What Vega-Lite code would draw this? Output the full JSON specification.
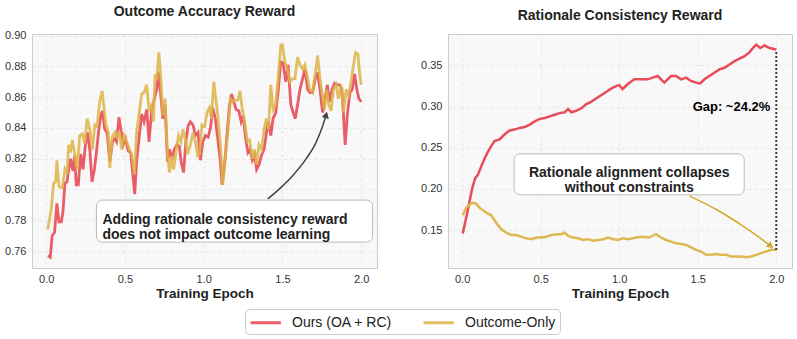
{
  "$schema": "https://vega.github.io/schema/vega-lite/v6.json",
  "padding": {"left": 4, "right": 5, "top": 4, "bottom": 4},
  "background": "white",
  "config": {
    "font": "Liberation Sans",
    "view": {"fill": "#F8F8F8", "stroke": "#CCCCCC", "strokeWidth": 1},
    "axis": {"grid": true, "gridColor": "#E0E0E0", "gridDash": [3, 3], "gridWidth": 0.8, "domain": false, "ticks": false, "labelFontSize": 11, "labelColor": "#333333", "labelPadding": 6, "labelOverlap": false, "titleFontSize": 13.5, "titleFontWeight": "bold", "titleColor": "#222222", "titlePadding": 4},
    "axisX": {"labelPadding": 5, "titlePadding": 2},
    "title": {"fontSize": 14, "fontWeight": "bold", "color": "#222222", "offset": 11},
    "legend": {"orient": "none", "legendX": 213, "legendY": 275, "direction": "horizontal", "fillColor": "white", "strokeColor": "#CCCCCC", "cornerRadius": 4, "padding": 4, "symbolType": "M-1,0H2.8", "symbolStrokeWidth": 3, "symbolSize": 256, "labelFontSize": 14, "labelColor": "#222222", "labelOffset": 24, "columnPadding": 25}
  },
  "datasets": {
    "acc": [
      {"epoch":0.011,"value":0.757,"series":"Ours (OA + RC)"},{"epoch":0.026,"value":0.756,"series":"Ours (OA + RC)"},{"epoch":0.038,"value":0.770,"series":"Ours (OA + RC)"},{"epoch":0.053,"value":0.772,"series":"Ours (OA + RC)"},{"epoch":0.068,"value":0.791,"series":"Ours (OA + RC)"},{"epoch":0.081,"value":0.779,"series":"Ours (OA + RC)"},{"epoch":0.096,"value":0.779,"series":"Ours (OA + RC)"},{"epoch":0.106,"value":0.785,"series":"Ours (OA + RC)"},{"epoch":0.119,"value":0.804,"series":"Ours (OA + RC)"},{"epoch":0.132,"value":0.805,"series":"Ours (OA + RC)"},{"epoch":0.143,"value":0.813,"series":"Ours (OA + RC)"},{"epoch":0.155,"value":0.820,"series":"Ours (OA + RC)"},{"epoch":0.170,"value":0.812,"series":"Ours (OA + RC)"},{"epoch":0.181,"value":0.822,"series":"Ours (OA + RC)"},{"epoch":0.191,"value":0.803,"series":"Ours (OA + RC)"},{"epoch":0.204,"value":0.803,"series":"Ours (OA + RC)"},{"epoch":0.219,"value":0.823,"series":"Ours (OA + RC)"},{"epoch":0.234,"value":0.813,"series":"Ours (OA + RC)"},{"epoch":0.249,"value":0.829,"series":"Ours (OA + RC)"},{"epoch":0.262,"value":0.837,"series":"Ours (OA + RC)"},{"epoch":0.277,"value":0.826,"series":"Ours (OA + RC)"},{"epoch":0.291,"value":0.805,"series":"Ours (OA + RC)"},{"epoch":0.306,"value":0.813,"series":"Ours (OA + RC)"},{"epoch":0.319,"value":0.824,"series":"Ours (OA + RC)"},{"epoch":0.334,"value":0.839,"series":"Ours (OA + RC)"},{"epoch":0.347,"value":0.848,"series":"Ours (OA + RC)"},{"epoch":0.357,"value":0.851,"series":"Ours (OA + RC)"},{"epoch":0.372,"value":0.839,"series":"Ours (OA + RC)"},{"epoch":0.387,"value":0.837,"series":"Ours (OA + RC)"},{"epoch":0.404,"value":0.818,"series":"Ours (OA + RC)"},{"epoch":0.421,"value":0.831,"series":"Ours (OA + RC)"},{"epoch":0.436,"value":0.833,"series":"Ours (OA + RC)"},{"epoch":0.447,"value":0.831,"series":"Ours (OA + RC)"},{"epoch":0.462,"value":0.847,"series":"Ours (OA + RC)"},{"epoch":0.474,"value":0.839,"series":"Ours (OA + RC)"},{"epoch":0.489,"value":0.829,"series":"Ours (OA + RC)"},{"epoch":0.504,"value":0.833,"series":"Ours (OA + RC)"},{"epoch":0.521,"value":0.825,"series":"Ours (OA + RC)"},{"epoch":0.536,"value":0.824,"series":"Ours (OA + RC)"},{"epoch":0.549,"value":0.811,"series":"Ours (OA + RC)"},{"epoch":0.562,"value":0.797,"series":"Ours (OA + RC)"},{"epoch":0.574,"value":0.818,"series":"Ours (OA + RC)"},{"epoch":0.591,"value":0.835,"series":"Ours (OA + RC)"},{"epoch":0.606,"value":0.849,"series":"Ours (OA + RC)"},{"epoch":0.621,"value":0.844,"series":"Ours (OA + RC)"},{"epoch":0.638,"value":0.852,"series":"Ours (OA + RC)"},{"epoch":0.653,"value":0.831,"series":"Ours (OA + RC)"},{"epoch":0.670,"value":0.852,"series":"Ours (OA + RC)"},{"epoch":0.687,"value":0.859,"series":"Ours (OA + RC)"},{"epoch":0.702,"value":0.865,"series":"Ours (OA + RC)"},{"epoch":0.713,"value":0.876,"series":"Ours (OA + RC)"},{"epoch":0.728,"value":0.861,"series":"Ours (OA + RC)"},{"epoch":0.740,"value":0.846,"series":"Ours (OA + RC)"},{"epoch":0.755,"value":0.855,"series":"Ours (OA + RC)"},{"epoch":0.770,"value":0.818,"series":"Ours (OA + RC)"},{"epoch":0.783,"value":0.826,"series":"Ours (OA + RC)"},{"epoch":0.798,"value":0.820,"series":"Ours (OA + RC)"},{"epoch":0.813,"value":0.826,"series":"Ours (OA + RC)"},{"epoch":0.830,"value":0.829,"series":"Ours (OA + RC)"},{"epoch":0.845,"value":0.828,"series":"Ours (OA + RC)"},{"epoch":0.857,"value":0.818,"series":"Ours (OA + RC)"},{"epoch":0.872,"value":0.811,"series":"Ours (OA + RC)"},{"epoch":0.887,"value":0.831,"series":"Ours (OA + RC)"},{"epoch":0.900,"value":0.841,"series":"Ours (OA + RC)"},{"epoch":0.915,"value":0.844,"series":"Ours (OA + RC)"},{"epoch":0.932,"value":0.842,"series":"Ours (OA + RC)"},{"epoch":0.947,"value":0.835,"series":"Ours (OA + RC)"},{"epoch":0.964,"value":0.837,"series":"Ours (OA + RC)"},{"epoch":0.979,"value":0.819,"series":"Ours (OA + RC)"},{"epoch":0.994,"value":0.831,"series":"Ours (OA + RC)"},{"epoch":1.011,"value":0.835,"series":"Ours (OA + RC)"},{"epoch":1.028,"value":0.834,"series":"Ours (OA + RC)"},{"epoch":1.043,"value":0.840,"series":"Ours (OA + RC)"},{"epoch":1.057,"value":0.853,"series":"Ours (OA + RC)"},{"epoch":1.074,"value":0.846,"series":"Ours (OA + RC)"},{"epoch":1.089,"value":0.833,"series":"Ours (OA + RC)"},{"epoch":1.104,"value":0.820,"series":"Ours (OA + RC)"},{"epoch":1.117,"value":0.803,"series":"Ours (OA + RC)"},{"epoch":1.134,"value":0.818,"series":"Ours (OA + RC)"},{"epoch":1.149,"value":0.837,"series":"Ours (OA + RC)"},{"epoch":1.164,"value":0.855,"series":"Ours (OA + RC)"},{"epoch":1.177,"value":0.862,"series":"Ours (OA + RC)"},{"epoch":1.191,"value":0.857,"series":"Ours (OA + RC)"},{"epoch":1.206,"value":0.852,"series":"Ours (OA + RC)"},{"epoch":1.223,"value":0.851,"series":"Ours (OA + RC)"},{"epoch":1.238,"value":0.844,"series":"Ours (OA + RC)"},{"epoch":1.251,"value":0.848,"series":"Ours (OA + RC)"},{"epoch":1.266,"value":0.833,"series":"Ours (OA + RC)"},{"epoch":1.281,"value":0.824,"series":"Ours (OA + RC)"},{"epoch":1.294,"value":0.826,"series":"Ours (OA + RC)"},{"epoch":1.309,"value":0.819,"series":"Ours (OA + RC)"},{"epoch":1.323,"value":0.822,"series":"Ours (OA + RC)"},{"epoch":1.336,"value":0.813,"series":"Ours (OA + RC)"},{"epoch":1.351,"value":0.816,"series":"Ours (OA + RC)"},{"epoch":1.366,"value":0.822,"series":"Ours (OA + RC)"},{"epoch":1.383,"value":0.826,"series":"Ours (OA + RC)"},{"epoch":1.398,"value":0.837,"series":"Ours (OA + RC)"},{"epoch":1.411,"value":0.844,"series":"Ours (OA + RC)"},{"epoch":1.426,"value":0.835,"series":"Ours (OA + RC)"},{"epoch":1.440,"value":0.846,"series":"Ours (OA + RC)"},{"epoch":1.457,"value":0.850,"series":"Ours (OA + RC)"},{"epoch":1.474,"value":0.865,"series":"Ours (OA + RC)"},{"epoch":1.489,"value":0.883,"series":"Ours (OA + RC)"},{"epoch":1.504,"value":0.882,"series":"Ours (OA + RC)"},{"epoch":1.521,"value":0.870,"series":"Ours (OA + RC)"},{"epoch":1.536,"value":0.881,"series":"Ours (OA + RC)"},{"epoch":1.553,"value":0.855,"series":"Ours (OA + RC)"},{"epoch":1.568,"value":0.850,"series":"Ours (OA + RC)"},{"epoch":1.581,"value":0.846,"series":"Ours (OA + RC)"},{"epoch":1.596,"value":0.855,"series":"Ours (OA + RC)"},{"epoch":1.611,"value":0.865,"series":"Ours (OA + RC)"},{"epoch":1.628,"value":0.872,"series":"Ours (OA + RC)"},{"epoch":1.643,"value":0.878,"series":"Ours (OA + RC)"},{"epoch":1.660,"value":0.865,"series":"Ours (OA + RC)"},{"epoch":1.674,"value":0.863,"series":"Ours (OA + RC)"},{"epoch":1.691,"value":0.863,"series":"Ours (OA + RC)"},{"epoch":1.709,"value":0.872,"series":"Ours (OA + RC)"},{"epoch":1.723,"value":0.876,"series":"Ours (OA + RC)"},{"epoch":1.738,"value":0.865,"series":"Ours (OA + RC)"},{"epoch":1.755,"value":0.850,"series":"Ours (OA + RC)"},{"epoch":1.770,"value":0.859,"series":"Ours (OA + RC)"},{"epoch":1.785,"value":0.868,"series":"Ours (OA + RC)"},{"epoch":1.798,"value":0.857,"series":"Ours (OA + RC)"},{"epoch":1.815,"value":0.865,"series":"Ours (OA + RC)"},{"epoch":1.830,"value":0.869,"series":"Ours (OA + RC)"},{"epoch":1.845,"value":0.868,"series":"Ours (OA + RC)"},{"epoch":1.862,"value":0.868,"series":"Ours (OA + RC)"},{"epoch":1.877,"value":0.865,"series":"Ours (OA + RC)"},{"epoch":1.887,"value":0.849,"series":"Ours (OA + RC)"},{"epoch":1.898,"value":0.829,"series":"Ours (OA + RC)"},{"epoch":1.913,"value":0.850,"series":"Ours (OA + RC)"},{"epoch":1.928,"value":0.863,"series":"Ours (OA + RC)"},{"epoch":1.943,"value":0.865,"series":"Ours (OA + RC)"},{"epoch":1.957,"value":0.875,"series":"Ours (OA + RC)"},{"epoch":1.972,"value":0.865,"series":"Ours (OA + RC)"},{"epoch":1.985,"value":0.859,"series":"Ours (OA + RC)"},{"epoch":2.000,"value":0.857,"series":"Ours (OA + RC)"},
      {"epoch":0.010,"value":0.774,"series":"Outcome-Only"},{"epoch":0.032,"value":0.787,"series":"Outcome-Only"},{"epoch":0.047,"value":0.804,"series":"Outcome-Only"},{"epoch":0.060,"value":0.805,"series":"Outcome-Only"},{"epoch":0.068,"value":0.819,"series":"Outcome-Only"},{"epoch":0.081,"value":0.802,"series":"Outcome-Only"},{"epoch":0.102,"value":0.801,"series":"Outcome-Only"},{"epoch":0.119,"value":0.813,"series":"Outcome-Only"},{"epoch":0.132,"value":0.810,"series":"Outcome-Only"},{"epoch":0.143,"value":0.829,"series":"Outcome-Only"},{"epoch":0.155,"value":0.824,"series":"Outcome-Only"},{"epoch":0.166,"value":0.832,"series":"Outcome-Only"},{"epoch":0.180,"value":0.824,"series":"Outcome-Only"},{"epoch":0.196,"value":0.813,"series":"Outcome-Only"},{"epoch":0.213,"value":0.835,"series":"Outcome-Only"},{"epoch":0.230,"value":0.836,"series":"Outcome-Only"},{"epoch":0.245,"value":0.830,"series":"Outcome-Only"},{"epoch":0.260,"value":0.846,"series":"Outcome-Only"},{"epoch":0.277,"value":0.839,"series":"Outcome-Only"},{"epoch":0.294,"value":0.826,"series":"Outcome-Only"},{"epoch":0.309,"value":0.842,"series":"Outcome-Only"},{"epoch":0.323,"value":0.841,"series":"Outcome-Only"},{"epoch":0.340,"value":0.857,"series":"Outcome-Only"},{"epoch":0.355,"value":0.864,"series":"Outcome-Only"},{"epoch":0.368,"value":0.852,"series":"Outcome-Only"},{"epoch":0.379,"value":0.842,"series":"Outcome-Only"},{"epoch":0.394,"value":0.837,"series":"Outcome-Only"},{"epoch":0.404,"value":0.814,"series":"Outcome-Only"},{"epoch":0.419,"value":0.834,"series":"Outcome-Only"},{"epoch":0.436,"value":0.837,"series":"Outcome-Only"},{"epoch":0.451,"value":0.834,"series":"Outcome-Only"},{"epoch":0.464,"value":0.838,"series":"Outcome-Only"},{"epoch":0.479,"value":0.826,"series":"Outcome-Only"},{"epoch":0.494,"value":0.835,"series":"Outcome-Only"},{"epoch":0.511,"value":0.831,"series":"Outcome-Only"},{"epoch":0.526,"value":0.827,"series":"Outcome-Only"},{"epoch":0.543,"value":0.822,"series":"Outcome-Only"},{"epoch":0.560,"value":0.810,"series":"Outcome-Only"},{"epoch":0.574,"value":0.837,"series":"Outcome-Only"},{"epoch":0.591,"value":0.850,"series":"Outcome-Only"},{"epoch":0.606,"value":0.862,"series":"Outcome-Only"},{"epoch":0.621,"value":0.863,"series":"Outcome-Only"},{"epoch":0.638,"value":0.868,"series":"Outcome-Only"},{"epoch":0.653,"value":0.852,"series":"Outcome-Only"},{"epoch":0.670,"value":0.855,"series":"Outcome-Only"},{"epoch":0.681,"value":0.844,"series":"Outcome-Only"},{"epoch":0.691,"value":0.875,"series":"Outcome-Only"},{"epoch":0.702,"value":0.871,"series":"Outcome-Only"},{"epoch":0.715,"value":0.889,"series":"Outcome-Only"},{"epoch":0.728,"value":0.872,"series":"Outcome-Only"},{"epoch":0.740,"value":0.848,"series":"Outcome-Only"},{"epoch":0.755,"value":0.859,"series":"Outcome-Only"},{"epoch":0.770,"value":0.822,"series":"Outcome-Only"},{"epoch":0.783,"value":0.811,"series":"Outcome-Only"},{"epoch":0.798,"value":0.822,"series":"Outcome-Only"},{"epoch":0.809,"value":0.813,"series":"Outcome-Only"},{"epoch":0.826,"value":0.826,"series":"Outcome-Only"},{"epoch":0.840,"value":0.835,"series":"Outcome-Only"},{"epoch":0.855,"value":0.831,"series":"Outcome-Only"},{"epoch":0.868,"value":0.839,"series":"Outcome-Only"},{"epoch":0.883,"value":0.833,"series":"Outcome-Only"},{"epoch":0.898,"value":0.823,"series":"Outcome-Only"},{"epoch":0.915,"value":0.829,"series":"Outcome-Only"},{"epoch":0.932,"value":0.837,"series":"Outcome-Only"},{"epoch":0.947,"value":0.831,"series":"Outcome-Only"},{"epoch":0.962,"value":0.822,"series":"Outcome-Only"},{"epoch":0.974,"value":0.823,"series":"Outcome-Only"},{"epoch":0.989,"value":0.842,"series":"Outcome-Only"},{"epoch":1.006,"value":0.841,"series":"Outcome-Only"},{"epoch":1.021,"value":0.850,"series":"Outcome-Only"},{"epoch":1.036,"value":0.853,"series":"Outcome-Only"},{"epoch":1.049,"value":0.846,"series":"Outcome-Only"},{"epoch":1.064,"value":0.870,"series":"Outcome-Only"},{"epoch":1.079,"value":0.857,"series":"Outcome-Only"},{"epoch":1.091,"value":0.846,"series":"Outcome-Only"},{"epoch":1.106,"value":0.829,"series":"Outcome-Only"},{"epoch":1.121,"value":0.803,"series":"Outcome-Only"},{"epoch":1.138,"value":0.822,"series":"Outcome-Only"},{"epoch":1.155,"value":0.839,"series":"Outcome-Only"},{"epoch":1.170,"value":0.859,"series":"Outcome-Only"},{"epoch":1.185,"value":0.857,"series":"Outcome-Only"},{"epoch":1.202,"value":0.858,"series":"Outcome-Only"},{"epoch":1.217,"value":0.858,"series":"Outcome-Only"},{"epoch":1.230,"value":0.864,"series":"Outcome-Only"},{"epoch":1.245,"value":0.852,"series":"Outcome-Only"},{"epoch":1.260,"value":0.844,"series":"Outcome-Only"},{"epoch":1.277,"value":0.831,"series":"Outcome-Only"},{"epoch":1.291,"value":0.832,"series":"Outcome-Only"},{"epoch":1.309,"value":0.820,"series":"Outcome-Only"},{"epoch":1.323,"value":0.826,"series":"Outcome-Only"},{"epoch":1.336,"value":0.816,"series":"Outcome-Only"},{"epoch":1.351,"value":0.829,"series":"Outcome-Only"},{"epoch":1.368,"value":0.826,"series":"Outcome-Only"},{"epoch":1.383,"value":0.839,"series":"Outcome-Only"},{"epoch":1.398,"value":0.846,"series":"Outcome-Only"},{"epoch":1.411,"value":0.839,"series":"Outcome-Only"},{"epoch":1.426,"value":0.868,"series":"Outcome-Only"},{"epoch":1.440,"value":0.852,"series":"Outcome-Only"},{"epoch":1.457,"value":0.855,"series":"Outcome-Only"},{"epoch":1.474,"value":0.874,"series":"Outcome-Only"},{"epoch":1.489,"value":0.894,"series":"Outcome-Only"},{"epoch":1.500,"value":0.894,"series":"Outcome-Only"},{"epoch":1.515,"value":0.883,"series":"Outcome-Only"},{"epoch":1.532,"value":0.878,"series":"Outcome-Only"},{"epoch":1.547,"value":0.870,"series":"Outcome-Only"},{"epoch":1.564,"value":0.872,"series":"Outcome-Only"},{"epoch":1.579,"value":0.872,"series":"Outcome-Only"},{"epoch":1.596,"value":0.886,"series":"Outcome-Only"},{"epoch":1.611,"value":0.881,"series":"Outcome-Only"},{"epoch":1.628,"value":0.878,"series":"Outcome-Only"},{"epoch":1.643,"value":0.881,"series":"Outcome-Only"},{"epoch":1.660,"value":0.872,"series":"Outcome-Only"},{"epoch":1.674,"value":0.865,"series":"Outcome-Only"},{"epoch":1.691,"value":0.863,"series":"Outcome-Only"},{"epoch":1.709,"value":0.876,"series":"Outcome-Only"},{"epoch":1.723,"value":0.887,"series":"Outcome-Only"},{"epoch":1.738,"value":0.872,"series":"Outcome-Only"},{"epoch":1.751,"value":0.863,"series":"Outcome-Only"},{"epoch":1.766,"value":0.852,"series":"Outcome-Only"},{"epoch":1.781,"value":0.865,"series":"Outcome-Only"},{"epoch":1.794,"value":0.855,"series":"Outcome-Only"},{"epoch":1.809,"value":0.851,"series":"Outcome-Only"},{"epoch":1.823,"value":0.865,"series":"Outcome-Only"},{"epoch":1.840,"value":0.868,"series":"Outcome-Only"},{"epoch":1.855,"value":0.859,"series":"Outcome-Only"},{"epoch":1.872,"value":0.868,"series":"Outcome-Only"},{"epoch":1.887,"value":0.850,"series":"Outcome-Only"},{"epoch":1.904,"value":0.865,"series":"Outcome-Only"},{"epoch":1.919,"value":0.861,"series":"Outcome-Only"},{"epoch":1.936,"value":0.870,"series":"Outcome-Only"},{"epoch":1.951,"value":0.881,"series":"Outcome-Only"},{"epoch":1.964,"value":0.889,"series":"Outcome-Only"},{"epoch":1.979,"value":0.888,"series":"Outcome-Only"},{"epoch":1.989,"value":0.876,"series":"Outcome-Only"},{"epoch":2.000,"value":0.868,"series":"Outcome-Only"}
    ],
    "rc": [
      {"epoch":0.004,"value":0.146,"series":"Ours (OA + RC)"},{"epoch":0.036,"value":0.174,"series":"Ours (OA + RC)"},{"epoch":0.062,"value":0.199,"series":"Ours (OA + RC)"},{"epoch":0.083,"value":0.213,"series":"Ours (OA + RC)"},{"epoch":0.100,"value":0.217,"series":"Ours (OA + RC)"},{"epoch":0.121,"value":0.227,"series":"Ours (OA + RC)"},{"epoch":0.143,"value":0.237,"series":"Ours (OA + RC)"},{"epoch":0.164,"value":0.245,"series":"Ours (OA + RC)"},{"epoch":0.185,"value":0.252,"series":"Ours (OA + RC)"},{"epoch":0.206,"value":0.258,"series":"Ours (OA + RC)"},{"epoch":0.238,"value":0.260,"series":"Ours (OA + RC)"},{"epoch":0.270,"value":0.266,"series":"Ours (OA + RC)"},{"epoch":0.302,"value":0.271,"series":"Ours (OA + RC)"},{"epoch":0.334,"value":0.272,"series":"Ours (OA + RC)"},{"epoch":0.366,"value":0.274,"series":"Ours (OA + RC)"},{"epoch":0.398,"value":0.275,"series":"Ours (OA + RC)"},{"epoch":0.430,"value":0.278,"series":"Ours (OA + RC)"},{"epoch":0.462,"value":0.282,"series":"Ours (OA + RC)"},{"epoch":0.494,"value":0.285,"series":"Ours (OA + RC)"},{"epoch":0.526,"value":0.286,"series":"Ours (OA + RC)"},{"epoch":0.557,"value":0.288,"series":"Ours (OA + RC)"},{"epoch":0.589,"value":0.290,"series":"Ours (OA + RC)"},{"epoch":0.621,"value":0.292,"series":"Ours (OA + RC)"},{"epoch":0.653,"value":0.293,"series":"Ours (OA + RC)"},{"epoch":0.674,"value":0.297,"series":"Ours (OA + RC)"},{"epoch":0.696,"value":0.293,"series":"Ours (OA + RC)"},{"epoch":0.728,"value":0.295,"series":"Ours (OA + RC)"},{"epoch":0.760,"value":0.298,"series":"Ours (OA + RC)"},{"epoch":0.791,"value":0.303,"series":"Ours (OA + RC)"},{"epoch":0.823,"value":0.306,"series":"Ours (OA + RC)"},{"epoch":0.855,"value":0.310,"series":"Ours (OA + RC)"},{"epoch":0.887,"value":0.314,"series":"Ours (OA + RC)"},{"epoch":0.919,"value":0.318,"series":"Ours (OA + RC)"},{"epoch":0.951,"value":0.322,"series":"Ours (OA + RC)"},{"epoch":0.983,"value":0.325,"series":"Ours (OA + RC)"},{"epoch":1.000,"value":0.326,"series":"Ours (OA + RC)"},{"epoch":1.021,"value":0.321,"series":"Ours (OA + RC)"},{"epoch":1.053,"value":0.327,"series":"Ours (OA + RC)"},{"epoch":1.096,"value":0.333,"series":"Ours (OA + RC)"},{"epoch":1.138,"value":0.333,"series":"Ours (OA + RC)"},{"epoch":1.181,"value":0.333,"series":"Ours (OA + RC)"},{"epoch":1.213,"value":0.335,"series":"Ours (OA + RC)"},{"epoch":1.245,"value":0.337,"series":"Ours (OA + RC)"},{"epoch":1.287,"value":0.329,"series":"Ours (OA + RC)"},{"epoch":1.330,"value":0.337,"series":"Ours (OA + RC)"},{"epoch":1.362,"value":0.337,"series":"Ours (OA + RC)"},{"epoch":1.394,"value":0.333,"series":"Ours (OA + RC)"},{"epoch":1.426,"value":0.335,"series":"Ours (OA + RC)"},{"epoch":1.457,"value":0.331,"series":"Ours (OA + RC)"},{"epoch":1.489,"value":0.329,"series":"Ours (OA + RC)"},{"epoch":1.515,"value":0.328,"series":"Ours (OA + RC)"},{"epoch":1.543,"value":0.333,"series":"Ours (OA + RC)"},{"epoch":1.574,"value":0.337,"series":"Ours (OA + RC)"},{"epoch":1.606,"value":0.341,"series":"Ours (OA + RC)"},{"epoch":1.638,"value":0.345,"series":"Ours (OA + RC)"},{"epoch":1.670,"value":0.347,"series":"Ours (OA + RC)"},{"epoch":1.702,"value":0.351,"series":"Ours (OA + RC)"},{"epoch":1.734,"value":0.355,"series":"Ours (OA + RC)"},{"epoch":1.766,"value":0.358,"series":"Ours (OA + RC)"},{"epoch":1.798,"value":0.361,"series":"Ours (OA + RC)"},{"epoch":1.830,"value":0.366,"series":"Ours (OA + RC)"},{"epoch":1.851,"value":0.371,"series":"Ours (OA + RC)"},{"epoch":1.872,"value":0.375,"series":"Ours (OA + RC)"},{"epoch":1.898,"value":0.371,"series":"Ours (OA + RC)"},{"epoch":1.926,"value":0.374,"series":"Ours (OA + RC)"},{"epoch":1.957,"value":0.371,"series":"Ours (OA + RC)"},{"epoch":1.979,"value":0.370,"series":"Ours (OA + RC)"},{"epoch":2.000,"value":0.369,"series":"Ours (OA + RC)"},
      {"epoch":0.004,"value":0.168,"series":"Outcome-Only"},{"epoch":0.026,"value":0.177,"series":"Outcome-Only"},{"epoch":0.047,"value":0.181,"series":"Outcome-Only"},{"epoch":0.068,"value":0.183,"series":"Outcome-Only"},{"epoch":0.089,"value":0.182,"series":"Outcome-Only"},{"epoch":0.111,"value":0.177,"series":"Outcome-Only"},{"epoch":0.132,"value":0.174,"series":"Outcome-Only"},{"epoch":0.164,"value":0.170,"series":"Outcome-Only"},{"epoch":0.185,"value":0.168,"series":"Outcome-Only"},{"epoch":0.206,"value":0.162,"series":"Outcome-Only"},{"epoch":0.228,"value":0.156,"series":"Outcome-Only"},{"epoch":0.249,"value":0.151,"series":"Outcome-Only"},{"epoch":0.281,"value":0.147,"series":"Outcome-Only"},{"epoch":0.313,"value":0.144,"series":"Outcome-Only"},{"epoch":0.345,"value":0.144,"series":"Outcome-Only"},{"epoch":0.377,"value":0.142,"series":"Outcome-Only"},{"epoch":0.409,"value":0.140,"series":"Outcome-Only"},{"epoch":0.440,"value":0.139,"series":"Outcome-Only"},{"epoch":0.472,"value":0.141,"series":"Outcome-Only"},{"epoch":0.504,"value":0.141,"series":"Outcome-Only"},{"epoch":0.536,"value":0.142,"series":"Outcome-Only"},{"epoch":0.568,"value":0.144,"series":"Outcome-Only"},{"epoch":0.600,"value":0.145,"series":"Outcome-Only"},{"epoch":0.632,"value":0.145,"series":"Outcome-Only"},{"epoch":0.653,"value":0.147,"series":"Outcome-Only"},{"epoch":0.674,"value":0.143,"series":"Outcome-Only"},{"epoch":0.706,"value":0.141,"series":"Outcome-Only"},{"epoch":0.738,"value":0.140,"series":"Outcome-Only"},{"epoch":0.770,"value":0.138,"series":"Outcome-Only"},{"epoch":0.802,"value":0.139,"series":"Outcome-Only"},{"epoch":0.834,"value":0.137,"series":"Outcome-Only"},{"epoch":0.866,"value":0.138,"series":"Outcome-Only"},{"epoch":0.898,"value":0.139,"series":"Outcome-Only"},{"epoch":0.930,"value":0.141,"series":"Outcome-Only"},{"epoch":0.962,"value":0.139,"series":"Outcome-Only"},{"epoch":0.994,"value":0.138,"series":"Outcome-Only"},{"epoch":1.021,"value":0.140,"series":"Outcome-Only"},{"epoch":1.064,"value":0.139,"series":"Outcome-Only"},{"epoch":1.106,"value":0.141,"series":"Outcome-Only"},{"epoch":1.149,"value":0.142,"series":"Outcome-Only"},{"epoch":1.191,"value":0.141,"series":"Outcome-Only"},{"epoch":1.234,"value":0.145,"series":"Outcome-Only"},{"epoch":1.266,"value":0.141,"series":"Outcome-Only"},{"epoch":1.298,"value":0.138,"series":"Outcome-Only"},{"epoch":1.330,"value":0.136,"series":"Outcome-Only"},{"epoch":1.362,"value":0.134,"series":"Outcome-Only"},{"epoch":1.394,"value":0.133,"series":"Outcome-Only"},{"epoch":1.426,"value":0.132,"series":"Outcome-Only"},{"epoch":1.457,"value":0.129,"series":"Outcome-Only"},{"epoch":1.489,"value":0.126,"series":"Outcome-Only"},{"epoch":1.521,"value":0.124,"series":"Outcome-Only"},{"epoch":1.553,"value":0.120,"series":"Outcome-Only"},{"epoch":1.585,"value":0.120,"series":"Outcome-Only"},{"epoch":1.617,"value":0.121,"series":"Outcome-Only"},{"epoch":1.649,"value":0.120,"series":"Outcome-Only"},{"epoch":1.681,"value":0.120,"series":"Outcome-Only"},{"epoch":1.713,"value":0.118,"series":"Outcome-Only"},{"epoch":1.745,"value":0.118,"series":"Outcome-Only"},{"epoch":1.777,"value":0.118,"series":"Outcome-Only"},{"epoch":1.809,"value":0.117,"series":"Outcome-Only"},{"epoch":1.840,"value":0.118,"series":"Outcome-Only"},{"epoch":1.872,"value":0.120,"series":"Outcome-Only"},{"epoch":1.904,"value":0.122,"series":"Outcome-Only"},{"epoch":1.936,"value":0.124,"series":"Outcome-Only"},{"epoch":1.968,"value":0.126,"series":"Outcome-Only"},{"epoch":2.000,"value":0.126,"series":"Outcome-Only"}
    ]
  },
  "spacing": 42,
  "resolve": {"scale": {"color": "shared"}, "legend": {"color": "shared"}},
  "hconcat": [
    {
      "width": 345,
      "height": 234,
      "title": "Outcome Accuracy Reward",
      "encoding": {
        "x": {"field": "epoch", "type": "quantitative", "scale": {"domain": [-0.09, 2.1], "nice": false, "zero": false}, "axis": {"values": [0, 0.5, 1, 1.5, 2], "format": ".1f", "title": "Training Epoch"}},
        "y": {"field": "value", "type": "quantitative", "scale": {"domain": [0.749, 0.901], "nice": false, "zero": false}, "axis": {"values": [0.76, 0.78, 0.8, 0.82, 0.84, 0.86, 0.88, 0.9], "format": ".2f", "title": null}}
      },
      "layer": [
        {
          "data": {"name": "acc"},
          "mark": {"type": "line", "strokeWidth": 2.8, "opacity": 0.85},
          "encoding": {
            "color": {"field": "series", "type": "nominal", "scale": {"domain": ["Ours (OA + RC)", "Outcome-Only"], "range": ["#E8414F", "#DDB448"]}, "legend": {"title": null}}
          }
        },
        {
          "data": {"values": [
            {"epoch": 1.407, "value": 0.7939, "k": 1},
            {"epoch": 1.481, "value": 0.8004, "k": 2},
            {"epoch": 1.566, "value": 0.8091, "k": 3},
            {"epoch": 1.651, "value": 0.8200, "k": 4},
            {"epoch": 1.714, "value": 0.8308, "k": 5},
            {"epoch": 1.756, "value": 0.8416, "k": 6},
            {"epoch": 1.777, "value": 0.8485, "k": 7}
          ]},
          "mark": {"type": "line", "color": "#444444", "strokeWidth": 1.5, "interpolate": "monotone"},
          "encoding": {"order": {"field": "k"}}
        },
        {
          "data": {"values": [{"epoch": 1.777, "value": 0.8485}]},
          "mark": {"type": "point", "shape": "triangle-up", "filled": true, "color": "#444444", "size": 55, "angle": 16, "opacity": 1},
          "encoding": {}
        },
        {
          "data": {"values": [{"epoch": 0.319, "epoch2": 2.072, "value": 0.7931, "value2": 0.7658}]},
          "mark": {"type": "rect", "fill": "white", "stroke": "#BBBBBB", "strokeWidth": 1, "cornerRadius": 6},
          "encoding": {"x2": {"field": "epoch2"}, "y2": {"field": "value2"}}
        },
        {
          "data": {"values": [{"epoch": 0.357, "value": 0.7805, "label": "Adding rationale consistency reward\ndoes not impact outcome learning"}]},
          "mark": {"type": "text", "align": "left", "baseline": "middle", "fontSize": 14, "fontWeight": "bold", "color": "#222222", "lineBreak": "\n", "lineHeight": 15},
          "encoding": {"text": {"field": "label"}}
        }
      ]
    },
    {
      "width": 344,
      "height": 234,
      "title": "Rationale Consistency Reward",
      "encoding": {
        "x": {"field": "epoch", "type": "quantitative", "scale": {"domain": [-0.09, 2.1], "nice": false, "zero": false}, "axis": {"values": [0, 0.5, 1, 1.5, 2], "format": ".1f", "title": "Training Epoch"}},
        "y": {"field": "value", "type": "quantitative", "scale": {"domain": [0.104, 0.388], "nice": false, "zero": false}, "axis": {"values": [0.15, 0.2, 0.25, 0.3, 0.35], "format": ".2f", "title": null}}
      },
      "layer": [
        {
          "data": {"name": "rc"},
          "mark": {"type": "line", "strokeWidth": 2.5, "opacity": 0.95},
          "encoding": {
            "color": {"field": "series", "type": "nominal", "scale": {"domain": ["Ours (OA + RC)", "Outcome-Only"], "range": ["#E8414F", "#DDB448"]}, "legend": {"title": null}}
          }
        },
        {
          "data": {"values": [{"epoch": 2.0, "value": 0.126, "value2": 0.369}]},
          "mark": {"type": "rule", "color": "black", "strokeWidth": 2, "strokeDash": [1.5, 2.5]},
          "encoding": {"y2": {"field": "value2"}}
        },
        {
          "data": {"values": [{"epoch": 1.962, "value": 0.2995, "label": "Gap: ~24.2%"}]},
          "mark": {"type": "text", "align": "right", "baseline": "middle", "fontSize": 13, "fontWeight": "bold", "color": "black"},
          "encoding": {"text": {"field": "label"}}
        },
        {
          "data": {"values": [
            {"epoch": 1.448, "value": 0.1912, "k": 1},
            {"epoch": 1.618, "value": 0.1750, "k": 2},
            {"epoch": 1.788, "value": 0.1549, "k": 3},
            {"epoch": 1.915, "value": 0.1379, "k": 4},
            {"epoch": 1.964, "value": 0.1307, "k": 5}
          ]},
          "mark": {"type": "line", "color": "#D4A72C", "strokeWidth": 1.5, "interpolate": "monotone"},
          "encoding": {"order": {"field": "k"}}
        },
        {
          "data": {"values": [{"epoch": 1.964, "value": 0.1307}]},
          "mark": {"type": "point", "shape": "triangle-up", "filled": true, "color": "#D4A72C", "size": 55, "angle": 128, "opacity": 1},
          "encoding": {}
        },
        {
          "data": {"values": [{"epoch": 0.331, "epoch2": 1.796, "value": 0.2425, "value2": 0.1928}]},
          "mark": {"type": "rect", "fill": "white", "stroke": "#BBBBBB", "strokeWidth": 1, "cornerRadius": 6},
          "encoding": {"x2": {"field": "epoch2"}, "y2": {"field": "value2"}}
        },
        {
          "data": {"values": [{"epoch": 1.064, "value": 0.2189, "label": "Rationale alignment collapses\nwithout constraints"}]},
          "mark": {"type": "text", "align": "center", "baseline": "middle", "fontSize": 14, "fontWeight": "bold", "color": "#222222", "lineBreak": "\n", "lineHeight": 15},
          "encoding": {"text": {"field": "label"}}
        }
      ]
    }
  ]
}
